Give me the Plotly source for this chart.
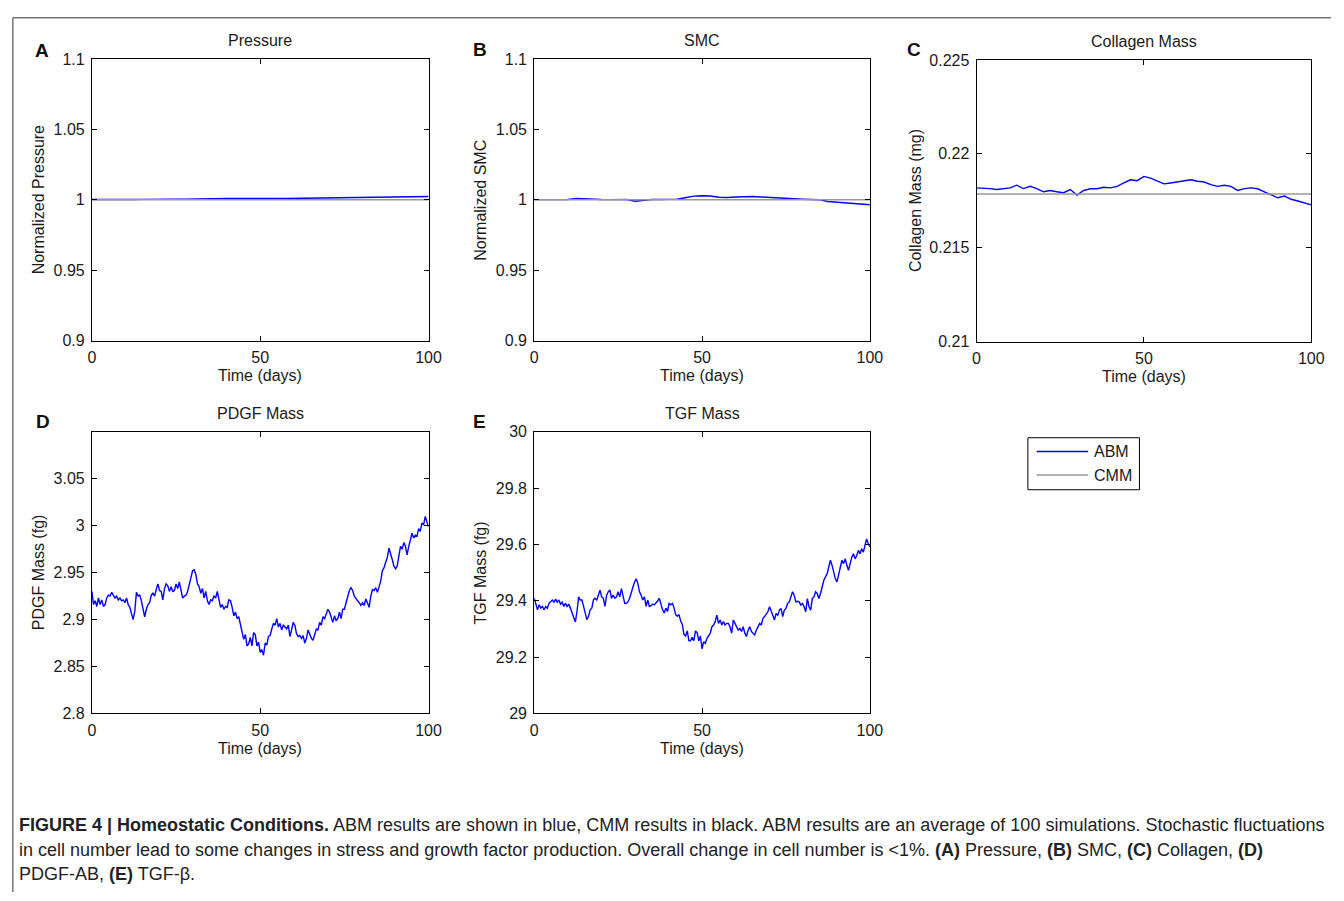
import numpy as np
import plotly.graph_objects as go

W, H = 1344, 901

# ---------------- data ----------------
pressure_abm = [1.0002, 1.0001, 1.0002, 1.0002, 1.0001, 1.0002, 1.0003, 1.0002, 1.0004, 1.0004,
                1.0004, 1.0005, 1.0007, 1.0008, 1.0009, 1.0009, 1.0010, 1.0010, 1.0011, 1.0010,
                1.0011, 1.0010, 1.0010, 1.0009, 1.0010, 1.0011, 1.0012, 1.0013, 1.0013, 1.0014,
                1.0016, 1.0017, 1.0018, 1.0018, 1.0019, 1.0020, 1.0019, 1.0021, 1.0022, 1.0023,
                1.0024]
pressure_cmm = [1.0, 1.0]

smc_abm = [1.0001, 1.0001, 1.0001, 1.0001, 1.0002, 1.0010, 1.0006, 1.0003, 1.0002, 1.0001,
           1.0000, 1.0002, 0.9990, 0.9996, 1.0002, 1.0002, 1.0004, 1.0005, 1.0015, 1.0026,
           1.0029, 1.0027, 1.0018, 1.0016, 1.0020, 1.0022, 1.0024, 1.0020, 1.0016, 1.0012,
           1.0010, 1.0008, 1.0004, 1.0002, 1.0000, 0.9988, 0.9984, 0.9978, 0.9976, 0.9970,
           0.9965]
smc_cmm = [1.0, 1.0]

collagen_abm = [0.21819, 0.21819, 0.21815, 0.21810, 0.21814, 0.21819, 0.21833, 0.21815, 0.21827, 0.21815,
                0.21798, 0.21805, 0.21798, 0.21793, 0.21810, 0.21780, 0.21805, 0.21814, 0.21814, 0.21822,
                0.21819, 0.21827, 0.21845, 0.21862, 0.21857, 0.21880, 0.21871, 0.21854, 0.21840, 0.21845,
                0.21850, 0.21854, 0.21862, 0.21854, 0.21850, 0.21836, 0.21827, 0.21833, 0.21827, 0.21805,
                0.21815, 0.21819, 0.21814, 0.21798, 0.21780, 0.21766, 0.21775, 0.21758, 0.21749, 0.21740,
                0.21728]
collagen_cmm = [0.21786, 0.21786]

pdgf_abm = [2.930, 2.916, 2.920, 2.914, 2.923, 2.916, 2.921, 2.914, 2.916, 2.923,
            2.926, 2.925, 2.929, 2.926, 2.923, 2.925, 2.921, 2.923, 2.920, 2.921,
            2.918, 2.923, 2.916, 2.913, 2.906, 2.900, 2.909, 2.929, 2.925, 2.926,
            2.920, 2.909, 2.903, 2.911, 2.916, 2.918, 2.926, 2.928, 2.925, 2.932,
            2.938, 2.931, 2.930, 2.921, 2.933, 2.938, 2.936, 2.930, 2.935, 2.930,
            2.931, 2.938, 2.933, 2.940, 2.931, 2.923, 2.925, 2.926, 2.930, 2.938,
            2.947, 2.952, 2.953, 2.948, 2.938, 2.935, 2.928, 2.933, 2.923, 2.930,
            2.920, 2.916, 2.921, 2.920, 2.925, 2.923, 2.930, 2.921, 2.913, 2.916,
            2.911, 2.914, 2.913, 2.921, 2.920, 2.913, 2.904, 2.908, 2.901, 2.903,
            2.896, 2.886, 2.879, 2.884, 2.872, 2.874, 2.881, 2.872, 2.886, 2.884,
            2.872, 2.876, 2.865,
            2.868, 2.862, 2.875, 2.873, 2.882, 2.883, 2.890, 2.896, 2.894, 2.901,
            2.892, 2.896, 2.889, 2.894, 2.892, 2.890, 2.894, 2.882, 2.889, 2.897,
            2.894, 2.885, 2.882, 2.883, 2.880, 2.883, 2.875, 2.880, 2.889, 2.885,
            2.880, 2.878, 2.885, 2.890, 2.889, 2.897, 2.894, 2.903, 2.901, 2.906,
            2.911, 2.908, 2.903, 2.897, 2.904, 2.899, 2.901, 2.908, 2.901, 2.911,
            2.911, 2.918, 2.925, 2.931, 2.934, 2.931, 2.925, 2.922, 2.920, 2.918,
            2.915, 2.918, 2.915, 2.922, 2.918, 2.913, 2.925, 2.932, 2.931, 2.934,
            2.929, 2.936, 2.941, 2.952, 2.955, 2.961, 2.966, 2.976, 2.971, 2.964,
            2.957, 2.954, 2.957, 2.969, 2.978, 2.975, 2.982, 2.978, 2.969, 2.978,
            2.985, 2.992, 2.987, 2.990, 2.989, 2.997, 2.994, 3.003, 3.001, 3.010,
            3.004, 2.999]

tgf_abm = [29.409, 29.391, 29.368, 29.386, 29.374, 29.380, 29.368, 29.380, 29.374, 29.391,
           29.397, 29.403, 29.395, 29.406, 29.395, 29.403, 29.388, 29.395, 29.380, 29.391,
           29.380, 29.388, 29.374, 29.357, 29.345, 29.325, 29.362, 29.414, 29.403, 29.403,
           29.380, 29.357, 29.333, 29.345, 29.368, 29.374, 29.403, 29.409, 29.403, 29.420,
           29.438, 29.414, 29.409, 29.380, 29.420, 29.432, 29.438, 29.409, 29.420, 29.409,
           29.414, 29.432, 29.414, 29.443, 29.420, 29.391, 29.391, 29.397, 29.409, 29.432,
           29.449, 29.467, 29.478, 29.461, 29.432, 29.420, 29.403, 29.414, 29.380, 29.403,
           29.380, 29.383, 29.388, 29.386, 29.391, 29.399, 29.409, 29.386, 29.368, 29.357,
           29.374, 29.362, 29.391, 29.386, 29.391, 29.374, 29.351, 29.345, 29.351, 29.328,
           29.316, 29.281, 29.275, 29.293, 29.258, 29.258, 29.270, 29.258, 29.293, 29.287,
           29.258, 29.275, 29.229,
           29.255, 29.249, 29.267, 29.279, 29.285, 29.308, 29.314, 29.326, 29.349, 29.320,
           29.332, 29.314, 29.326, 29.314, 29.320, 29.320, 29.308, 29.285, 29.332, 29.320,
           29.308, 29.296, 29.302, 29.291, 29.308, 29.285, 29.273, 29.296, 29.308, 29.291,
           29.285, 29.279, 29.296, 29.308, 29.320, 29.314, 29.338, 29.344, 29.355, 29.361,
           29.379, 29.367, 29.349, 29.332, 29.355, 29.349, 29.367, 29.373, 29.344, 29.367,
           29.373, 29.391, 29.396, 29.414, 29.432, 29.420, 29.396, 29.398, 29.396, 29.385,
           29.391, 29.379, 29.361, 29.408, 29.379, 29.367, 29.408, 29.414, 29.432, 29.426,
           29.408, 29.426, 29.449, 29.473, 29.485, 29.496, 29.520, 29.544, 29.526, 29.502,
           29.479, 29.467, 29.491, 29.526, 29.544, 29.532, 29.549, 29.526, 29.508, 29.532,
           29.555, 29.567, 29.549, 29.561, 29.579, 29.567, 29.585, 29.573, 29.596, 29.620,
           29.602, 29.591]

time_range = [0, 100]
x_ticks = [0, 50, 100]
x_ticktext = ["0", "50", "100"]

panels = [
    dict(title="Pressure", ytitle="Normalized Pressure", letter="A", abm=pressure_abm, cmm=pressure_cmm,
         yrange=[0.9, 1.1], yticks=[0.9, 0.95, 1.0, 1.05, 1.1], ytext=["0.9", "0.95", "1", "1.05", "1.1"]),
    dict(title="SMC", ytitle="Normalized SMC", letter="B", abm=smc_abm, cmm=smc_cmm,
         yrange=[0.9, 1.1], yticks=[0.9, 0.95, 1.0, 1.05, 1.1], ytext=["0.9", "0.95", "1", "1.05", "1.1"]),
    dict(title="Collagen Mass", ytitle="Collagen Mass (mg)", letter="C", abm=collagen_abm, cmm=collagen_cmm,
         yrange=[0.21, 0.225], yticks=[0.21, 0.215, 0.22, 0.225], ytext=["0.21", "0.215", "0.22", "0.225"]),
    dict(title="PDGF Mass", ytitle="PDGF Mass (fg)", letter="D", abm=pdgf_abm, cmm=None,
         yrange=[2.8, 3.1], yticks=[2.8, 2.85, 2.9, 2.95, 3.0, 3.05], ytext=["2.8", "2.85", "2.9", "2.95", "3", "3.05"]),
    dict(title="TGF Mass", ytitle="TGF Mass (fg)", letter="E", abm=tgf_abm, cmm=None,
         yrange=[29, 30], yticks=[29, 29.2, 29.4, 29.6, 29.8, 30], ytext=["29", "29.2", "29.4", "29.6", "29.8", "30"]),
]

# ---------------- layout geometry (pixels) ----------------
boxes = [(89, 430, 52, 339), (537, 877, 52, 339), (985, 1324, 53, 340),
         (89, 430, 432, 719), (537, 877, 432, 719)]
ytitle_x = [35, 483, 923, 35, 483]
letter_pos = [(38, 43), (482, 42), (922, 42), (39, 421), (482, 421)]


def px(x):
    return x / W


def py(y):
    return 1 - y / H


FONT = "Liberation Sans, Arial, Helvetica, sans-serif"
ABM_COLOR = "#0000FF"
CMM_COLOR = "#999999"
TXT = "#1a1a1a"

fig = go.Figure()
annotations = []
layout_axes = {}

for i, (p, box) in enumerate(zip(panels, boxes)):
    n = i + 1
    xa = "x" if n == 1 else f"x{n}"
    ya = "y" if n == 1 else f"y{n}"
    l, r, t, b = box
    t_abm = np.linspace(time_range[0], time_range[1], len(p["abm"]))
    fig.add_trace(go.Scatter(x=t_abm, y=p["abm"], mode="lines", name="ABM",
                             line=dict(color=ABM_COLOR, width=1.4), xaxis=xa, yaxis=ya,
                             showlegend=False))
    if p["cmm"] is not None:
        t_cmm = np.linspace(time_range[0], time_range[1], len(p["cmm"]))
        fig.add_trace(go.Scatter(x=t_cmm, y=p["cmm"], mode="lines", name="CMM",
                                 line=dict(color=CMM_COLOR, width=1.5), xaxis=xa, yaxis=ya,
                                 showlegend=False))
    axcommon = dict(showline=True, linecolor="#000000", linewidth=1, mirror="ticks",
                    ticks="inside", ticklen=5, tickcolor="#000000", tickwidth=1,
                    showgrid=False, zeroline=False,
                    tickfont=dict(family=FONT, size=16, color=TXT))
    xkey = "xaxis" if n == 1 else f"xaxis{n}"
    ykey = "yaxis" if n == 1 else f"yaxis{n}"
    layout_axes[xkey] = dict(domain=[px(l), px(r)], anchor=ya, range=time_range,
                             tickmode="array", tickvals=x_ticks, ticktext=x_ticktext,
                             ticklabelstandoff=2, **axcommon)
    layout_axes[ykey] = dict(domain=[py(b), py(t)], anchor=xa, range=p["yrange"],
                             tickmode="array", tickvals=p["yticks"], ticktext=p["ytext"],
                             ticklabelstandoff=3, **axcommon)
    annotations.append(dict(text=p["title"], x=px((l + r) / 2), y=py(t - 8), xref="paper", yref="paper",
                            xanchor="center", yanchor="bottom", showarrow=False,
                            font=dict(family=FONT, size=16, color=TXT)))
    annotations.append(dict(text="Time (days)", x=px((l + r) / 2), y=py(b + 36), xref="paper", yref="paper",
                            xanchor="center", yanchor="middle", showarrow=False,
                            font=dict(family=FONT, size=16, color=TXT)))
    annotations.append(dict(text=p["ytitle"], x=px(ytitle_x[i]), y=py((t + b) / 2), xref="paper", yref="paper",
                            xanchor="center", yanchor="middle", showarrow=False, textangle=-90,
                            font=dict(family=FONT, size=16, color=TXT)))
    lx, ly = letter_pos[i]
    annotations.append(dict(text="<b>%s</b>" % p["letter"], x=px(lx), y=py(ly), xref="paper", yref="paper",
                            xanchor="center", yanchor="middle", showarrow=False,
                            font=dict(family=FONT, size=19, color="#111111")))

# ---------------- legend (drawn box) ----------------
shapes = []
shapes.append(dict(type="rect", xref="paper", yref="paper", x0=px(1037), x1=px(1150), y0=py(491), y1=py(438),
                   line=dict(color="#000000", width=1), fillcolor="white"))
shapes.append(dict(type="line", xref="paper", yref="paper", x0=px(1046), x1=px(1098), y0=py(452), y1=py(452),
                   line=dict(color=ABM_COLOR, width=1.4)))
shapes.append(dict(type="line", xref="paper", yref="paper", x0=px(1046), x1=px(1098), y0=py(476), y1=py(476),
                   line=dict(color=CMM_COLOR, width=1.5)))
for label, yy in [("ABM", 452), ("CMM", 476)]:
    annotations.append(dict(text=label, x=px(1102), y=py(yy), xref="paper", yref="paper",
                            xanchor="left", yanchor="middle", showarrow=False,
                            font=dict(family=FONT, size=16, color=TXT)))

# ---------------- outer frame ----------------
shapes.append(dict(type="line", xref="paper", yref="paper", x0=px(9), x1=1, y0=py(10), y1=py(10),
                   line=dict(color="#333333", width=1)))
shapes.append(dict(type="line", xref="paper", yref="paper", x0=px(9), x1=px(9), y0=0, y1=py(10),
                   line=dict(color="#333333", width=1)))

# ---------------- caption ----------------
CAP_FONT = "Liberation Sans, Arial, sans-serif"
caption_lines = [
    "<b>FIGURE 4 | Homeostatic Conditions.</b> ABM results are shown in blue, CMM results in black. "
    "ABM results are an average of 100 simulations. Stochastic fluctuations",
    "in cell number lead to some changes in stress and growth factor production. Overall change in cell "
    "number is &lt;1%. <b>(A)</b> Pressure, <b>(B)</b> SMC, <b>(C)</b> Collagen, <b>(D)</b>",
    "PDGF-AB, <b>(E)</b> TGF-β.",
]
for k, line in enumerate(caption_lines):
    annotations.append(dict(text=line, x=px(13), y=py(833 + 25 * k), xref="paper", yref="paper",
                            xanchor="left", yanchor="middle", showarrow=False, align="left",
                            font=dict(family=CAP_FONT, size=18, color="#222222")))

fig.update_layout(width=W, height=H, margin=dict(l=0, r=0, t=0, b=0),
                  paper_bgcolor="white", plot_bgcolor="white",
                  annotations=annotations, shapes=shapes, showlegend=False,
                  **layout_axes)

fig.write_html("out.html")
